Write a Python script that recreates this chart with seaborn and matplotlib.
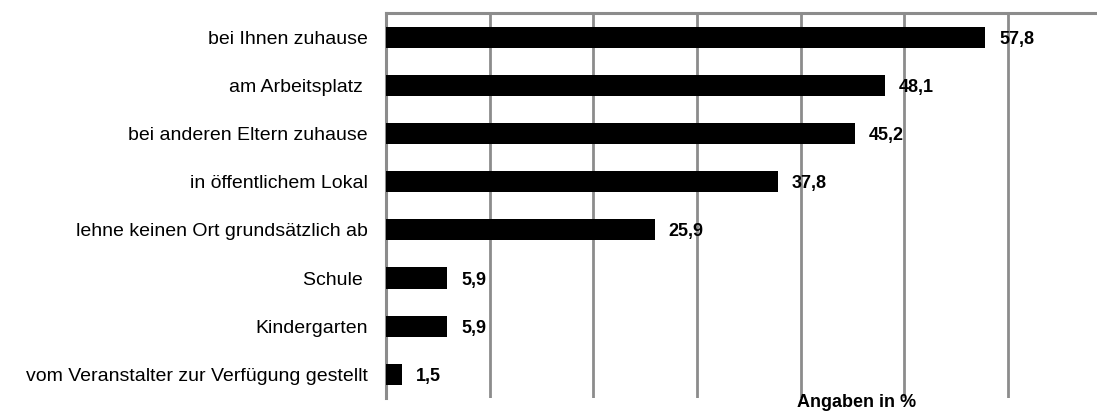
import pandas as pd
import matplotlib.pyplot as plt
import seaborn as sns

# Daten
orte = [
    "bei Ihnen zuhause",
    "am Arbeitsplatz ",
    "bei anderen Eltern zuhause",
    "in öffentlichem Lokal",
    "lehne keinen Ort grundsätzlich ab",
    "Schule ",
    "Kindergarten",
    "vom Veranstalter zur Verfügung gestellt",
]
werte = [57.8, 48.1, 45.2, 37.8, 25.9, 5.9, 5.9, 1.5]
wert_labels = ["57,8", "48,1", "45,2", "37,8", "25,9", "5,9", "5,9", "1,5"]


def draw_bar_plot():
    df = pd.DataFrame({"ort": orte, "wert": werte})

    sns.set_style("white")
    plt.rcParams["font.family"] = ["Liberation Sans", "DejaVu Sans"]
    plt.rcParams["text.color"] = "black"
    plt.rcParams["ytick.color"] = "black"

    fig = plt.figure(figsize=(10.97, 4.12), dpi=100)
    ax = fig.add_axes([0.352, 0.033, 0.648, 0.935])

    sns.barplot(data=df, x="wert", y="ort", orient="h", color="black",
                width=0.44, saturation=1, linewidth=0, ax=ax, zorder=3)

    # Gitterlinien und Achsen
    ax.set_xlim(0, 68.6)
    ax.set_ylim(7.5, -0.5)
    ax.set_xticks(range(10, 70, 10))
    ax.xaxis.grid(True, color="#8c8c8c", linewidth=2)
    ax.set_axisbelow(True)
    ax.tick_params(axis="x", length=0, labelbottom=False)
    ax.tick_params(axis="y", length=0, pad=13, labelsize=14, labelcolor="black")
    for side in ["bottom", "right"]:
        ax.spines[side].set_visible(False)
    for side in ["top", "left"]:
        ax.spines[side].set_color("#8c8c8c")
        ax.spines[side].set_linewidth(2.2)
    ax.set_xlabel("")
    ax.set_ylabel("")

    # Werte neben den Balken
    for i, (v, lab) in enumerate(zip(werte, wert_labels)):
        ax.annotate(lab, (v, i), xytext=(10, -1.5), textcoords="offset points",
                    va="center", ha="left", fontsize=13, fontweight="bold",
                    color="black", zorder=4)

    fig.text(0.781, 0.022, "Angaben in %", ha="center", va="center",
             fontsize=13, fontweight="bold", color="black")

    fig.savefig("out.png", dpi=100)
    return fig


draw_bar_plot()
